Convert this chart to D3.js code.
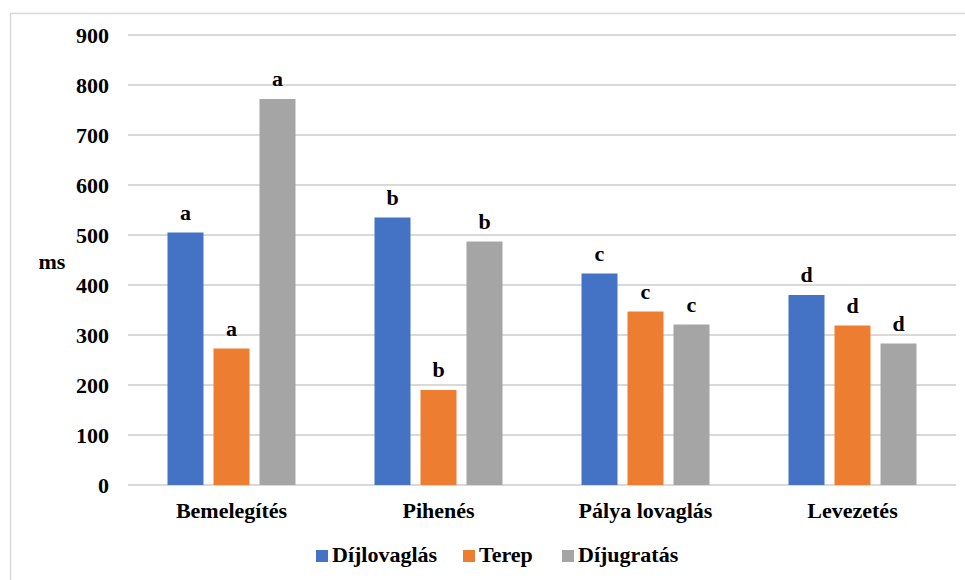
<!DOCTYPE html>
<html>
<head>
<meta charset="utf-8">
<script src="https://cdn.jsdelivr.net/npm/d3@7"></script>
<style>
  html, body { margin: 0; padding: 0; background: #fff; }
  svg { display: block; }
</style>
</head>
<body>
<svg id="chart" width="965" height="580"></svg>
<script>
const categories = ["Bemelegítés", "Pihenés", "Pálya lovaglás", "Levezetés"];
const seriesNames = ["Díjlovaglás", "Terep", "Díjugratás"];
const dijlovaglas = [505, 535, 423, 380];
const terep = [273, 190, 347, 319];
const dijugratas = [772, 487, 321, 283];
const letters = ["a", "b", "c", "d"];
const yTicks = [0, 100, 200, 300, 400, 500, 600, 700, 800, 900];
const colors = ["#4472C4", "#ED7D31", "#A5A5A5"];
const seriesValues = [dijlovaglas, terep, dijugratas];

const svg = d3.select("#chart");
const fs = 22;
const ff = "'Liberation Serif'";

function styleText(sel) {
  return sel.style("font-family", ff).style("font-size", fs + "px").style("font-weight", "bold").style("fill", "#000");
}

// frame
svg.append("rect").attr("x", 10.5).attr("y", 13.5).attr("width", 1000).attr("height", 600)
  .attr("fill", "none").attr("stroke", "#d9d9d9").attr("stroke-width", 1.5);

const pLeft = 128, pRight = 956, pTop = 35, pBottom = 485;
const x0 = d3.scaleBand().domain(categories).range([pLeft, pRight]).paddingInner(0).paddingOuter(0);
const y = d3.scaleLinear().domain([0, 900]).range([pBottom, pTop]);
const barW = 36, step = 46;

// gridlines
svg.append("g").selectAll("line").data(yTicks).join("line")
  .attr("x1", pLeft).attr("x2", pRight)
  .attr("y1", d => y(d)).attr("y2", d => y(d))
  .attr("stroke", "#d9d9d9").attr("stroke-width", 2);

// y axis labels
const yAxis = d3.axisLeft(y).tickValues(yTicks).tickSize(0).tickPadding(0);
const yg = svg.append("g").attr("transform", `translate(${pLeft - 19},0)`).call(yAxis);
yg.select(".domain").remove();
styleText(yg.selectAll("text")).attr("dy", "0.35em");

// y title
styleText(svg.append("text").attr("x", 52).attr("y", 269).attr("text-anchor", "middle")).text("ms");

// bars
seriesValues.forEach((vals, si) => {
  const g = svg.append("g");
  g.selectAll("rect").data(categories).join("rect")
    .attr("x", (c) => x0(c) + x0.bandwidth() / 2 - barW / 2 + (si - 1) * step)
    .attr("y", (c, i) => y(vals[i]))
    .attr("width", barW)
    .attr("height", (c, i) => y(0) - y(vals[i]))
    .attr("fill", colors[si]);
  styleText(g.selectAll("text").data(categories).join("text")
    .attr("x", (c) => x0(c) + x0.bandwidth() / 2 + (si - 1) * step)
    .attr("y", (c, i) => y(vals[i]) - 13)
    .attr("text-anchor", "middle"))
    .text((c, i) => letters[i]);
});

// x axis labels
const xAxis = d3.axisBottom(x0).tickSize(0).tickPadding(0);
const xg = svg.append("g").attr("transform", `translate(0,${pBottom})`).call(xAxis);
xg.select(".domain").remove();
styleText(xg.selectAll("text")).attr("dy", null).attr("y", 33);

// legend
const legX = [316, 463, 562];
const lg = svg.append("g");
seriesNames.forEach((n, i) => {
  lg.append("rect").attr("x", legX[i]).attr("y", 550).attr("width", 12).attr("height", 12).attr("fill", colors[i]);
  styleText(lg.append("text").attr("x", legX[i] + 16).attr("y", 562)).text(n);
});
</script>
</body>
</html>
